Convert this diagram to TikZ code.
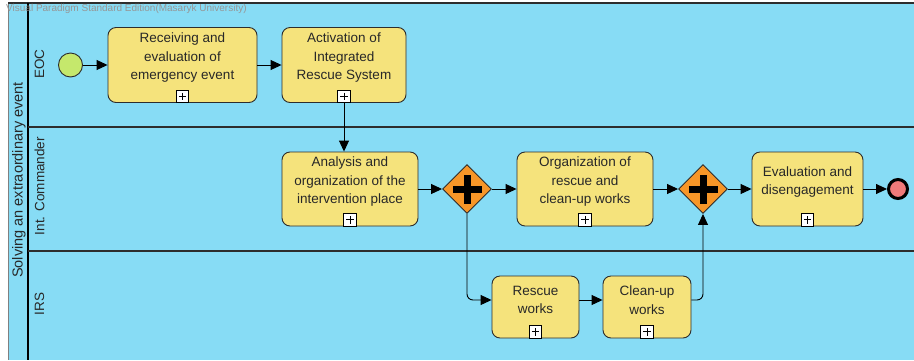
\documentclass[tikz,border=0pt]{standalone}
\usepackage{fontspec}
\setmainfont{Liberation Sans}
\usetikzlibrary{shapes.geometric,arrows.meta,calc}
\definecolor{poolblue}{RGB}{135,220,245}
\definecolor{taskfill}{RGB}{245,227,124}
\definecolor{gwfill}{RGB}{247,150,40}
\definecolor{startfill}{RGB}{197,232,108}
\definecolor{endfill}{RGB}{240,122,122}
\definecolor{edgecol}{RGB}{45,45,45}
\definecolor{txtcol}{RGB}{40,40,40}
\definecolor{wmark}{RGB}{150,150,150}

\tikzset{
  task/.style={draw=edgecol, line width=0.9pt, fill=taskfill, rounded corners=8pt, inner sep=0pt},
  tasktext/.style={align=center, text=txtcol, font=\fontsize{13.5}{18.5}\selectfont, inner sep=0pt},
  submarker/.style={draw=black, line width=0.7pt, fill=white, minimum size=12.5pt, inner sep=0pt,
    path picture={
      \draw[line width=0.8pt] ([xshift=2.5pt]path picture bounding box.west) -- ([xshift=-2.5pt]path picture bounding box.east);
      \draw[line width=0.8pt] ([yshift=-2.5pt]path picture bounding box.north) -- ([yshift=2.5pt]path picture bounding box.south);
    }},
  gateway/.style={diamond, draw=edgecol, line width=0.9pt, fill=gwfill, minimum width=49pt, minimum height=49pt, inner sep=0pt,
    path picture={
      \fill[black] ($(path picture bounding box.center)+(-14.5pt,-3.5pt)$) rectangle ($(path picture bounding box.center)+(14.5pt,3.5pt)$);
      \fill[black] ($(path picture bounding box.center)+(-3.5pt,-14.5pt)$) rectangle ($(path picture bounding box.center)+(3.5pt,14.5pt)$);
    }},
  startev/.style={circle, draw=edgecol, line width=0.9pt, fill=startfill, minimum size=24pt, inner sep=0pt},
  endev/.style={circle, draw=black, line width=3pt, fill=endfill, minimum size=19pt, inner sep=0pt},
  flow/.style={draw=black, line width=0.9pt, -{Triangle[length=11pt,width=10pt]}, rounded corners=6pt},
  lanelabel/.style={rotate=90, text=txtcol, font=\fontsize{13.5}{15}\selectfont, inner sep=0pt},
}

\newcommand\bpmntask[6]{%
  \node[task, minimum width=#4, minimum height=#5] (#1) at (#2,#3) {};
  \node[tasktext] (#1-t) at ([yshift=7pt]#1.center) {#6};
  \node[submarker, anchor=south] (#1-m) at (#1.south) {};
}

\begin{document}
\begin{tikzpicture}[x=1pt,y=-1pt]
\useasboundingbox (0,0) rectangle (914,360);
\fill[white] (0,0) rectangle (914,360);
\fill[poolblue] (8,3) rectangle (914,360);

% pool and lane lines
\draw[draw=gray, line width=1pt] (8.5,3) -- (8.5,360);
\draw[draw=edgecol, line width=2pt] (8,3) -- (914,3);
\draw[draw=black, line width=2pt] (28,3) -- (28,360);
\draw[draw=edgecol, line width=1.5pt] (28,127) -- (914,127);
\draw[draw=edgecol, line width=1.5pt] (28,251) -- (914,251);

% watermark
\node[anchor=west, text=wmark, font=\fontsize{10}{11}\selectfont, inner sep=0pt] (wm) at (6,9) {Visual Paradigm Standard Edition(Masaryk University)};

% labels
\node[lanelabel, font=\fontsize{14.5}{16}\selectfont] (pool) at (19,180) {Solving an extraordinary event};
\node[lanelabel] (eoc) at (39.5,64) {EOC};
\node[lanelabel] (ic) at (39.5,186) {Int. Commander};
\node[lanelabel] (irs) at (39.5,304) {IRS};

% events
\node[startev] (start) at (70.5,65) {};
\node[endev] (end) at (898,189) {};

% tasks
\bpmntask{t1}{182.5}{65}{149pt}{75pt}{Receiving and\\evaluation of\\emergency event}
\bpmntask{t2}{344}{65}{124pt}{75pt}{Activation of\\Integrated\\Rescue System}
\bpmntask{t3}{350}{189}{136pt}{74pt}{Analysis and\\organization of the\\intervention place}
\bpmntask{t4}{585}{189}{136pt}{74pt}{Organization of\\rescue and\\clean-up works}
\bpmntask{t5}{807.5}{189}{111pt}{74pt}{Evaluation and\\disengagement}
\bpmntask{r}{535.5}{307}{87pt}{62pt}{Rescue\\works}
\bpmntask{c}{647}{307}{88pt}{62pt}{Clean-up\\works}

% gateways
\node[gateway] (g1) at (467,189) {};
\node[gateway] (g2) at (703,189) {};

% flows
\draw[flow] (start) -- (t1);
\draw[flow] (t1) -- (t2);
\draw[flow] (t2.south) -- (t2.south |- t3.north);
\draw[flow] (t3) -- (g1);
\draw[flow] (g1) -- (t4);
\draw[flow] (t4) -- (g2);
\draw[flow] (g2) -- (t5);
\draw[flow] (t5) -- (end);
\draw[flow] (g1.south) |- ([yshift=7pt]r.west);
\draw[flow] ([yshift=7pt]r.east) -- ([yshift=7pt]c.west);
\draw[flow] ([yshift=7pt]c.east) -| (g2.south);
\end{tikzpicture}
\end{document}
